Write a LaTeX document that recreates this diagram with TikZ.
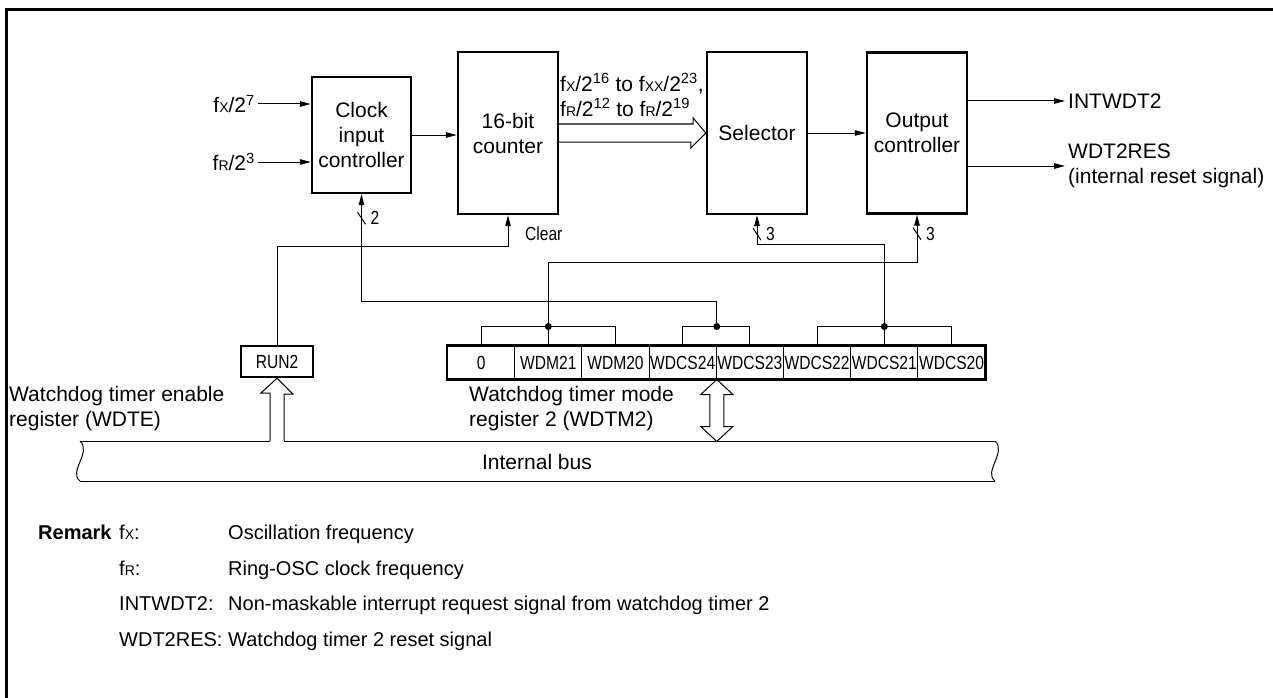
\documentclass[tikz,border=0pt]{standalone}
\usepackage{fontspec}
\setmainfont{Liberation Sans}
\newfontfamily\narrowfont[FakeStretch=0.82]{Liberation Sans}
\usepackage{tikz}
\usetikzlibrary{arrows.meta,calc}
\newcommand{\fsx}[1]{f{\fontsize{14}{14}\selectfont #1}}

\begin{document}
\begin{tikzpicture}[
    x=1pt, y=-1pt,
    >={Triangle[length=11pt,width=5.5pt]},
    every node/.style={font=\fontsize{21}{25}\selectfont, inner sep=3pt},
    block/.style={
        rectangle, draw, line width=2.4pt,
        align=center, inner sep=2pt
    },
    wire/.style={line width=1pt},
    sig/.style={wire, ->},
    small/.style={font=\narrowfont\fontsize{19}{19}\selectfont, inner sep=2pt},
    note/.style={anchor=base west, font=\fontsize{20}{24}\selectfont},
    cell/.style={
        rectangle, draw, line width=1pt,
        minimum width=67.2pt, minimum height=33pt, inner sep=0pt,
        font=\narrowfont\fontsize{19}{19}\selectfont
    }
]
    \useasboundingbox (0,0) rectangle (1273,698);
    \draw[line width=3pt] (6.7,698) -- (6.7,9.7) -- (1273,9.7);

    % Main flow
    \node[block, minimum width=99pt, minimum height=116pt] (clk) at (361.5,135) {Clock\\input\\controller};
    \node[block, minimum width=100pt, minimum height=162pt] (cnt) at (508,133) {16-bit\\counter};
    \node[block, minimum width=100pt, minimum height=162pt] (sel) at (757,133) {Selector};
    \node[block, minimum width=100pt, minimum height=161pt] (outc) at (917,133) {Output\\controller};

    % Inputs and outputs
    \node[anchor=east] (fx) at (258,104) {\fsx{X}/2\textsuperscript{7}};
    \node[anchor=east] (fr) at (258,162) {\fsx{R}/2\textsuperscript{3}};
    \node[anchor=west] (intw) at (1065,101) {INTWDT2};
    \node[anchor=west, align=left] (wres) at (1065,166) {WDT2RES\\(internal reset signal)};
    \node[anchor=west, align=left] (rng) at (557,95) {\fsx{X}/2\textsuperscript{16} to \fsx{XX}/2\textsuperscript{23},\\\fsx{R}/2\textsuperscript{12} to \fsx{R}/2\textsuperscript{19}};

    \draw[sig] (fx.east) -- (fx.east -| clk.west);
    \draw[sig] (fr.east) -- (fr.east -| clk.west);
    \draw[sig] (clk.east) -- (clk.east -| cnt.west);
    \draw[wire] (cnt.east) ++(0,-9) -- ++(134,0) -- ++(0,-6) -- (sel.west) -- ++(-15,15) -- ++(0,-6) -- ++(-134,0);
    \draw[sig] (sel.east) -- (sel.east -| outc.west);
    \draw[sig] (outc.east |- intw.west) -- (intw.west);
    \draw[sig] (outc.east |- wres.west) -- (wres.west);

    % Registers
    \node[rectangle, draw, line width=2.4pt, minimum width=72pt, minimum height=31pt, inner sep=0pt,
        font=\narrowfont\fontsize{19}{19}\selectfont] (run) at (277,361.5) {RUN2};
    \node[anchor=west, align=left] (wdte) at (6,409) {Watchdog timer enable\\register (WDTE)};

    \foreach \lbl [count=\i from 0] in {0,WDM21,WDM20,WDCS24,WDCS23,WDCS22,WDCS21,WDCS20}
        \node[cell] (r\i) at ({481.1+67.2*\i},362.5) {\lbl};
    \draw[line width=2.4pt] (r0.north west) rectangle (r7.south east);
    \node[anchor=west, align=left] (wdtm) at (466,409) {Watchdog timer mode\\register 2 (WDTM2)};

    % Bit groups
    \coordinate (dL) at ($(r1.north)+(0,-19)$);
    \coordinate (dM) at ($(r3.north east)+(0,-19)$);
    \coordinate (dR) at ($(r6.north)+(0,-19)$);
    \draw[wire] (r0.north) |- (dL) -| (r2.north);
    \draw[wire] (dL) -- (r1.north);
    \draw[wire] (r3.north) |- (dM) -| (r4.north);
    \draw[wire] (r5.north) |- (dR) -| (r7.north);
    \draw[wire] (dR) -- (r6.north);
    \foreach \d in {dL,dM,dR}
        \fill (\d) circle (3.5pt);

    % Control lines
    \draw[sig] (dM) -- (dM |- 0,301) -| (clk.south);
    \draw[sig] (dL) -- (dL |- 0,262) -| (outc.south);
    \draw[sig] (dR) -- (dR |- 0,244) -| (sel.south);
    \draw[sig] (run.north) -- (run.north |- 0,246) -| (cnt.south);
    \foreach \n/\w/\d in {clk/2/24,sel/3/19,outc/3/19} {
        \draw[wire] ($(\n.south)+(-4,\d-6)$) -- ($(\n.south)+(4,\d+6)$);
        \node[small, anchor=west] (w\n) at ($(\n.south)+(7,\d)$) {\w};
    }
    \node[small, anchor=west] (clr) at ($(cnt.south)+(15,19)$) {Clear};

    % Internal bus
    \coordinate (busL) at (80,441);
    \coordinate (busR) at (995,441);
    \coordinate (runL) at ($(run.south |- busL)+(-7,0)$);
    \coordinate (runR) at ($(run.south |- busL)+(7,0)$);
    \draw[wire] (busL) -- (runL);
    \draw[wire] (runR) -- (busR);
    \draw[wire] (busL) ++(0,40) -- ++(915,0);
    \draw[wire] (busL) .. controls +(12,11) and +(-12,-9) .. ++(0,40);
    \draw[wire] (busR) .. controls +(12,11) and +(-12,-9) .. ++(0,40);
    \node (ibus) at (537,462) {Internal bus};

    \draw[wire] (runL) -- ++(0,-48) -- ++(-9,0) -- (run.south) -- ++(16,16) -- ++(-9,0) -- (runR);
    \draw[wire] (r3.south east) -- ++(-16,15) -- ++(9,0) -- ++(0,32) -- ++(-9,0) -- ++(16,15)
        -- ++(16,-15) -- ++(-9,0) -- ++(0,-32) -- ++(9,0) -- cycle;

    % Remark
    \node[note, font=\bfseries\fontsize{20}{24}\selectfont] (rmk) at (35,539.5) {Remark};
    \foreach \k/\v [count=\i from 0] in {{\fsx{X}:}/Oscillation frequency,{\fsx{R}:}/Ring-OSC clock frequency,
        INTWDT2:/Non-maskable interrupt request signal from watchdog timer 2,WDT2RES:/Watchdog timer 2 reset signal} {
        \node[note] (k\i) at (116,{539.5+35.5*\i}) {\k};
        \node[note] (v\i) at (225,{539.5+35.5*\i}) {\v};
    }

\end{tikzpicture}
\end{document}
